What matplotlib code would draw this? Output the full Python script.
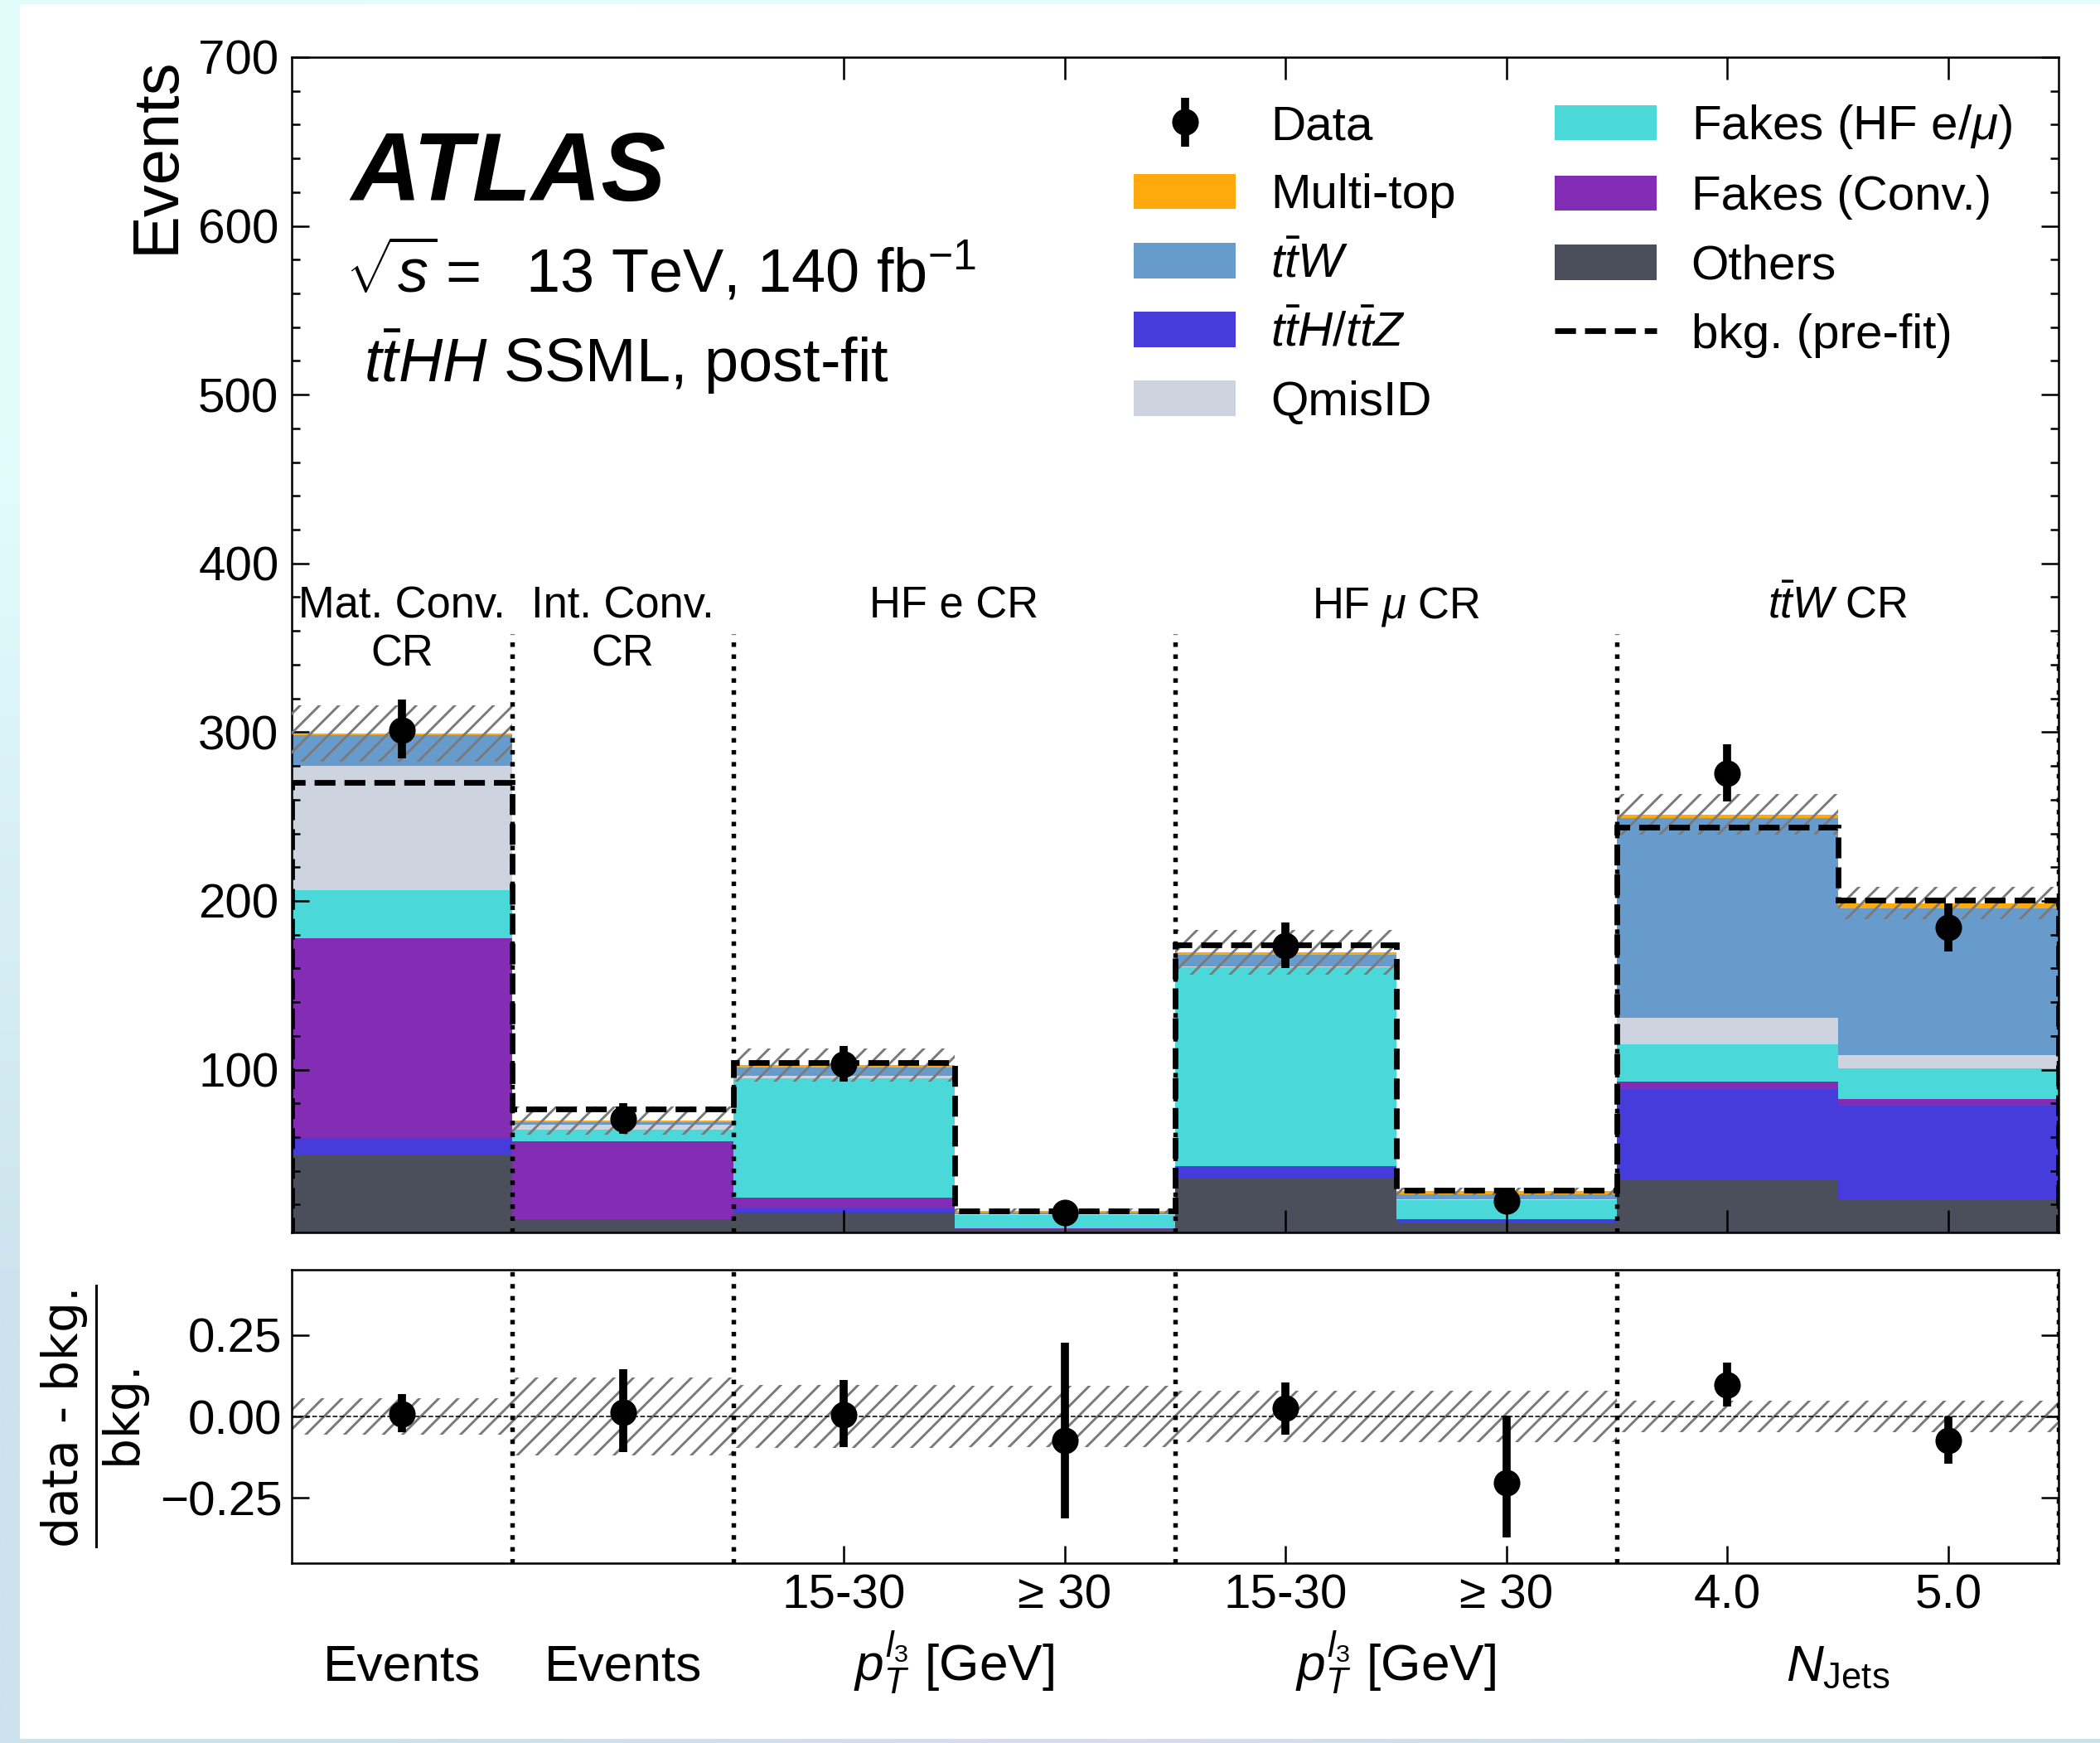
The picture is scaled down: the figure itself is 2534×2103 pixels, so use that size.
"""
ttHH SSML control regions, post-fit stack with data/bkg ratio panel.
"""

import matplotlib.pyplot as plt
import numpy as np
from matplotlib.lines import Line2D
from matplotlib.patches import Rectangle

plt.rcParams["font.family"] = ["Liberation Sans", "DejaVu Sans"]
plt.rcParams["mathtext.fontset"] = "custom"
plt.rcParams["mathtext.rm"] = "Liberation Sans"
plt.rcParams["mathtext.it"] = "Liberation Sans:italic"
plt.rcParams["mathtext.bf"] = "Liberation Sans:bold"
plt.rcParams["hatch.linewidth"] = 1.5
plt.rcParams["axes.unicode_minus"] = True

# ---- data ----
edges = np.arange(9)

others = [49.3, 11.0, 15.2, 4.8, 35.2, 9.0, 34.5, 22.8]
tth_ttz = [10.4, 0.5, 2.8, 0.7, 7.1, 1.7, 54.2, 55.8]
fakes_conv = [118.3, 46.2, 6.2, 0.7, 0.5, 0.9, 4.0, 4.2]
fakes_hf = [28.2, 6.8, 70.8, 7.8, 117.8, 11.2, 22.5, 17.8]
qmisid = [73.8, 3.1, 1.3, 0.4, 0.4, 0.3, 15.5, 7.9]
ttw = [18.0, 1.1, 5.1, 0.8, 7.0, 2.8, 118.6, 87.3]
multitop = [1.2, 1.1, 1.4, 1.1, 1.6, 2.1, 2.0, 2.8]

prefit = [270.0, 76.6, 104.0, 16.3, 173.8, 28.5, 243.7, 200.6]
data = [301.2, 70.6, 103.2, 15.1, 173.7, 22.3, 275.8, 184.2]
data_err_up = [18.3, 9.3, 11.0, 4.9, 13.5, 5.8, 17.0, 14.3]
data_err_down = [16.8, 8.5, 10.2, 3.9, 13.5, 4.7, 17.0, 14.3]
rel_unc = [0.056, 0.12, 0.097, 0.094, 0.078, 0.078, 0.048, 0.048]

tick_bins = [2, 3, 4, 5, 6, 7]
tick_labels = ["15-30", "≥ 30", "15-30", "≥ 30", "4.0", "5.0"]

region_edges = [(0, 1), (1, 2), (2, 4), (4, 6), (6, 8)]
region_names = ["Mat. Conv.\nCR", "Int. Conv.\nCR", "HF e CR", r"HF $\mu$ CR", r"$t\bar{t}W$ CR"]
region_xlabels = ["Events", "Events", r"$p_T^{l_3}$ [GeV]", r"$p_T^{l_3}$ [GeV]", r"$N_{\mathrm{Jets}}$"]
separators = [1, 2, 4, 6, 8]

components = [
    ("Others", others, "#4b4f5b"),
    (r"$t\bar{t}H/t\bar{t}Z$", tth_ttz, "#463cdc"),
    ("Fakes (Conv.)", fakes_conv, "#832db5"),
    (r"Fakes (HF e/$\mu$)", fakes_hf, "#4ad9d8"),
    ("QmisID", qmisid, "#cdd3df"),
    (r"$t\bar{t}W$", ttw, "#679bcb"),
    ("Multi-top", multitop, "#ffa90e"),
]


def main():
    fig = plt.figure(figsize=(2534 / 140, 2103 / 140), dpi=140)

    # decorative frame around the white panel
    bg = fig.add_axes([0, 0, 1, 1], zorder=-10)
    grad = np.array(
        [
            [[0.89, 0.99, 0.99], [0.90, 0.99, 0.99], [0.90, 0.99, 0.99]],
            [[0.80, 0.89, 0.93], [0.85, 0.86, 0.94], [0.80, 0.89, 0.92]],
        ]
    )
    bg.imshow(grad, aspect="auto", interpolation="bilinear", extent=[0, 1, 0, 1])
    bg.add_patch(Rectangle((25 / 2534, 6 / 2103), 1, 2091 / 2103, color="white"))
    bg.set_xlim(0, 1)
    bg.set_ylim(0, 1)
    bg.axis("off")

    ax = fig.add_axes([0.1389, 0.2929, 0.8414, 0.6743])
    rax = fig.add_axes([0.1389, 0.1032, 0.8414, 0.1683])

    centers = 0.5 * (edges[:-1] + edges[1:])

    # stacked backgrounds
    handles = {}
    bottom = np.zeros(len(centers))
    for label, vals, color in components:
        top = bottom + np.array(vals)
        h = ax.stairs(top, edges, baseline=bottom, fill=True, color=color, lw=0, label=label)
        handles[label] = h
        bottom = top
    total = bottom

    # uncertainty band
    unc = total * np.array(rel_unc)
    ax.fill_between(edges, np.append(total - unc, (total - unc)[-1]), np.append(total + unc, (total + unc)[-1]),
                    step="post", facecolor="none", edgecolor="#7a7a7a", hatch="//", lw=0, zorder=3)

    # pre-fit background
    ax.stairs(prefit, edges, baseline=0, color="black", ls="--", lw=3.5, zorder=4)
    pre_handle = Line2D([], [], color="black", ls="--", lw=3.5)

    # data
    yerr = [data_err_down, data_err_up]
    dh = ax.errorbar(centers, data, yerr=yerr, fmt="o", color="black", ms=15.5, elinewidth=5, capsize=0, zorder=6)

    ax.set_xlim(edges[0], edges[-1])
    ax.set_ylim(3.5, 700)
    ax.set_ylabel("Events", loc="top", fontsize=40, labelpad=7)
    ax.set_yticks(np.arange(100, 701, 100))
    ax.set_yticks(np.arange(20, 700, 20), minor=True)
    ax.set_xticks(centers[tick_bins])
    ax.tick_params(axis="both", which="both", direction="in", top=True, right=True, labelbottom=False,
                   labelsize=30, width=1.3)
    ax.tick_params(axis="y", which="major", length=11, pad=8)
    ax.tick_params(axis="y", which="minor", length=5)
    ax.tick_params(axis="x", which="major", length=14)
    ax.tick_params(axis="x", which="minor", bottom=False, top=False)

    for x in separators:
        ax.vlines(x, 3.5, 358, color="black", ls=":", lw=2.8, zorder=5)
        rax.axvline(x, color="black", ls=":", lw=2.8, zorder=5)

    for (lo, hi), name in zip(region_edges, region_names):
        ax.text(0.5 * (lo + hi), 387, name, ha="center", va="top", fontsize=27, linespacing=1.22)

    ax.text(0.0333, 0.8777, "ATLAS", transform=ax.transAxes, fontsize=60, fontweight="bold", style="italic",
            va="baseline")
    ax.text(0.0305, 0.8004, r"$\sqrt{s}=$  13 TeV, 140 fb$^{-1}$", transform=ax.transAxes, fontsize=38,
            va="baseline")
    ax.text(0.041, 0.7238, r"$t\bar{t}HH$ SSML, post-fit", transform=ax.transAxes, fontsize=38,
            va="baseline")

    order = ["Data", "Multi-top", r"$t\bar{t}W$", r"$t\bar{t}H/t\bar{t}Z$", "QmisID",
             r"Fakes (HF e/$\mu$)", "Fakes (Conv.)", "Others", "bkg. (pre-fit)"]
    handles["Data"] = dh
    handles["bkg. (pre-fit)"] = pre_handle
    ax.legend([handles[k] for k in order], order, ncol=2, loc="upper right", bbox_to_anchor=(0.9735, 0.961),
              frameon=False, fontsize=30, handlelength=2.1, handleheight=0.75, handletextpad=0.72,
              columnspacing=2.05, labelspacing=0.5, borderpad=0, borderaxespad=0)

    # ratio panel
    ratio = np.array(data) / total - 1
    r_err = [np.array(data_err_down) / total, np.array(data_err_up) / total]
    ru = np.array(rel_unc)
    rax.fill_between(edges, np.append(-ru, -ru[-1]), np.append(ru, ru[-1]), step="post", facecolor="none",
                     edgecolor="#7a7a7a", hatch="//", lw=0, zorder=2)
    rax.axhline(0, color="black", ls="--", lw=0.8, zorder=3)
    rax.errorbar(centers, ratio, yerr=r_err, fmt="o", color="black", ms=15.5, elinewidth=5, capsize=0, zorder=6)
    rax.set_xlim(edges[0], edges[-1])
    rax.set_ylim(-0.45, 0.45)
    rax.set_yticks([-0.25, 0, 0.25])
    rax.set_yticklabels(["−0.25", "0.00", "0.25"])
    rax.set_xticks(centers[tick_bins])
    rax.set_xticklabels(tick_labels)
    rax.tick_params(axis="both", which="both", direction="in", right=True, labelsize=30, width=1.3,
                    length=11)
    rax.tick_params(axis="y", pad=6)
    rax.tick_params(axis="x", pad=6.5)
    rax.tick_params(axis="x", which="minor", bottom=False, top=False)
    rax.set_ylabel(r"$\dfrac{\text{data - bkg.}}{\text{bkg.}}$", fontsize=30, math_fontfamily="dejavusans")
    rax.yaxis.set_label_coords(-0.079, 0.5)

    for (lo, hi), name in zip(region_edges, region_xlabels):
        rax.text(0.5 * (lo + hi), -0.40, name, transform=rax.get_xaxis_transform(), ha="center",
                 va="baseline", fontsize=32)

    for a in (ax, rax):
        for s in a.spines.values():
            s.set_linewidth(1.3)

    fig.savefig("out.png", dpi=140)
    plt.close("all")


if __name__ == "__main__":
    main()
